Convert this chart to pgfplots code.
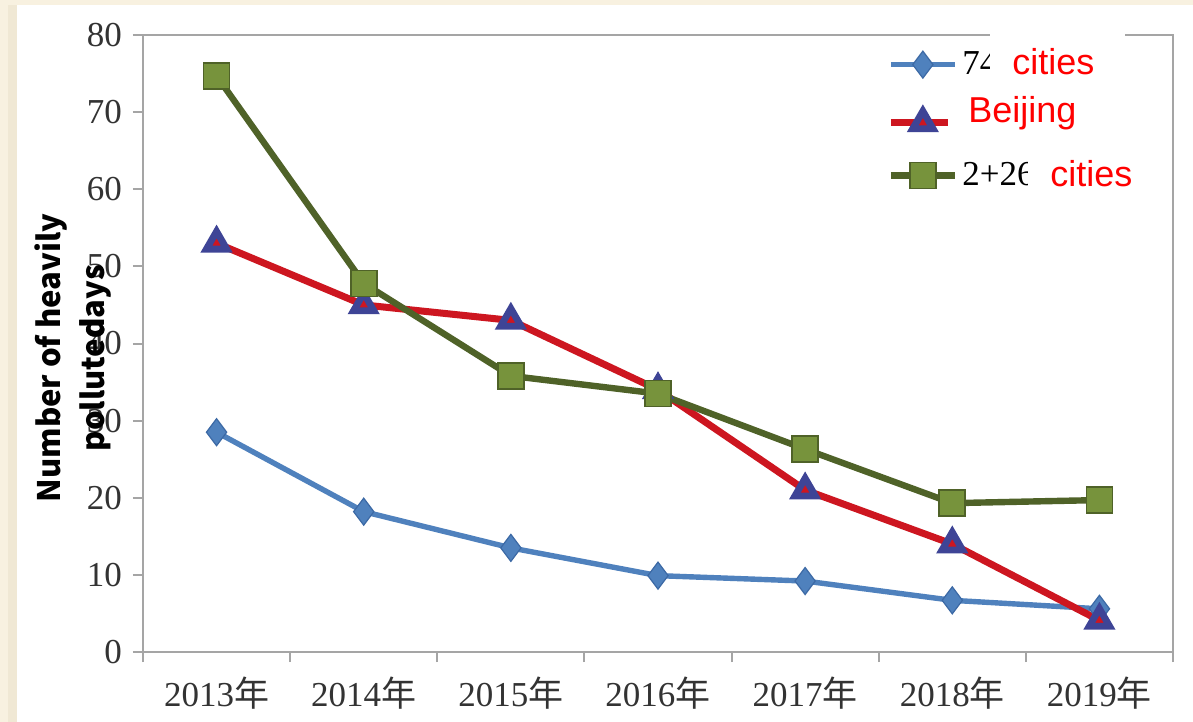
\documentclass[border=0pt]{standalone}
\usepackage{fontspec}
\setmainfont{Liberation Serif}
\newfontfamily\cjk{Noto Sans CJK SC}
\newfontfamily\labelfont{Noto Sans CJK SC}
\newfontfamily\redfont{Liberation Sans}
\usepackage{pgfplots}
\pgfplotsset{compat=1.18}
\definecolor{cream}{RGB}{248,241,224}
\definecolor{cream2}{RGB}{240,232,212}
\definecolor{axgray}{RGB}{165,165,165}
\definecolor{bluec}{RGB}{79,129,189}
\definecolor{bluedark}{RGB}{60,105,165}
\definecolor{redc}{RGB}{205,22,32}
\definecolor{triblue}{RGB}{62,68,150}
\definecolor{greenline}{RGB}{79,98,40}
\definecolor{greenfill}{RGB}{119,147,60}
\begin{document}
\begin{tikzpicture}
\fill[cream] (-71.5pt,-35pt) rectangle (525pt,326pt);
\fill[cream2] (-67.5pt,-35pt) rectangle (-63pt,323.5pt);
\fill[white] (-63pt,-35pt) rectangle (525pt,323.5pt);
\begin{axis}[
  at={(0,0)}, anchor=south west,
  scale only axis, width=515pt, height=308.5pt,
  xmin=-0.5, xmax=6.5, ymin=0, ymax=80,
  xtick={0,1,2,3,4,5,6},
  xticklabels={2013{\cjk 年},2014{\cjk 年},2015{\cjk 年},2016{\cjk 年},2017{\cjk 年},2018{\cjk 年},2019{\cjk 年}},
  major x tick style={draw=none},
  minor xtick={-0.5,0.5,1.5,2.5,3.5,4.5,5.5,6.5},
  ytick={0,10,20,30,40,50,60,70,80},
  tick align=outside, tick pos=left,
  major tick length=5pt, minor tick length=5pt,
  axis line style={axgray, line width=1.2pt},
  every tick/.style={axgray, line width=1pt},
  /pgf/number format/assume math mode=true,
  ticklabel style={font=\fontsize{17.5pt}{20pt}\selectfont, text=black!80},
  xticklabel style={yshift=-4pt},
  yticklabel style={xshift=-2pt},
  ylabel={Number of heavily\\pollute\rlap{d}days},
  ylabel style={at={(axis description cs:-0.068,0.4765)}, anchor=center, align=center,
    font=\labelfont\bfseries\fontsize{15.5pt}{22pt}\selectfont},
  legend style={draw=none, fill=none, at={(axis description cs:0.7223,0.8622)}, anchor=west,
    font=\fontsize{17.5pt}{20pt}\selectfont, row sep=14.75pt, inner sep=0pt},
  legend cell align=left,
  legend image code/.code={\draw[mark repeat=2,mark phase=2] plot coordinates {(0pt,0pt) (16pt,0pt) (32pt,0pt)};},
  clip=false,
]
\addplot[bluec, line width=2.7pt, mark=diamond*, mark size=6.75pt,
  mark options={fill=bluec, draw=bluedark, line width=0.6pt}]
  coordinates {(0,28.5) (1,18.2) (2,13.5) (3,9.9) (4,9.2) (5,6.7) (6,5.6)};
\addlegendentry{74}
\addplot[redc, line width=3.5pt, mark=triangle*, mark size=5.9pt,
  mark options={fill=redc, draw=triblue, line width=3.4pt, line join=miter}]
  coordinates {(0,53) (1,45) (2,43) (3,34) (4,21) (5,14) (6,4.1)};
\addlegendentry{}
\addplot[greenline, line width=3.2pt, mark=square*, mark size=6.5pt,
  mark options={fill=greenfill, draw=greenline, line width=0.8pt}]
  coordinates {(0,74.7) (1,47.8) (2,35.8) (3,33.5) (4,26.3) (5,19.3) (6,19.7)};
\addlegendentry{2+26}
\end{axis}
\fill[white] (423.5pt,281pt) rectangle (491pt,313pt);
\node[anchor=base west, inner sep=0pt, text=red, font=\redfont\fontsize{18pt}{20pt}\selectfont] at (434.5pt,288.5pt) {cities};
\fill[white] (402.5pt,251pt) rectangle (478.5pt,281pt);
\node[anchor=base west, inner sep=0pt, text=red, font=\redfont\fontsize{18pt}{20pt}\selectfont] at (412.5pt,264.5pt) {Beijing};
\fill[white] (442.5pt,223.5pt) rectangle (498.5pt,251pt);
\node[anchor=base west, inner sep=0pt, text=red, font=\redfont\fontsize{18pt}{20pt}\selectfont] at (453.5pt,232.5pt) {cities};
\pgfresetboundingbox
\useasboundingbox (-71.5pt,-35pt) rectangle (525pt,326pt);
\end{tikzpicture}
\end{document}
